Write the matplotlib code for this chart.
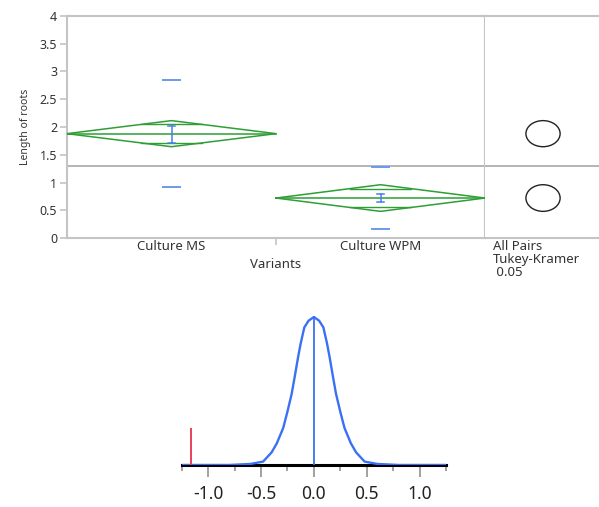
import numpy as np
import matplotlib
matplotlib.use("Agg")
import matplotlib.pyplot as plt
from matplotlib.patches import Ellipse

plt.rcParams['font.family'] = ['Noto Sans', 'DejaVu Sans']

# ---- data ----
categories = ["Culture MS", "Culture WPM"]
means = [1.88, 0.72]
ci_half = [0.235, 0.24]          # 95% means diamond half height
se_low = [1.72, 0.64]            # error bar limits
se_high = [2.02, 0.79]
obs_min = [0.91, 0.16]
obs_max = [2.85, 1.28]
grand_mean = 1.30
y_ticks = [0, 0.5, 1, 1.5, 2, 2.5, 3, 3.5, 4]

# randomization / null distribution curve (relative density)
dist_x = [-1.25, -0.80, -0.60, -0.48, -0.40, -0.35, -0.29, -0.25, -0.21, -0.18,
          -0.15, -0.125, -0.09, -0.05, 0.0, 0.05, 0.09, 0.125, 0.15, 0.18, 0.21,
          0.25, 0.29, 0.35, 0.40, 0.48, 0.60, 0.80, 1.25]
dist_y = [0.0, 0.0, 0.007, 0.023, 0.085, 0.147, 0.25, 0.36, 0.48, 0.60,
          0.725, 0.82, 0.93, 0.975, 1.0, 0.975, 0.93, 0.82, 0.725, 0.60, 0.48,
          0.36, 0.25, 0.147, 0.085, 0.023, 0.007, 0.0, 0.0]
observed_diff = -1.16
observed_height = 0.24
dist_ticks = [-1.0, -0.5, 0.0, 0.5, 1.0]
dist_minor = [-1.25, -0.75, -0.25, 0.25, 0.75, 1.25]

GREEN = "#2e9e35"
BLUE = "#4a7fe8"
LBLUE = "#6d98ee"
CBLUE = "#3a70f5"
RED = "#e8405a"
GRAY = "#c4c4c4"
TXT = "#333333"

W, H = 599, 507
fig = plt.figure(figsize=(W / 100, H / 100), dpi=100)


def rect(x0, y0, x1, y1):
    return [x0 / W, 1 - y1 / H, (x1 - x0) / W, (y1 - y0) / H]


# ---- main one-way plot ----
ax = fig.add_axes(rect(67, 16, 485, 238))
ax.set_xlim(0, 2)
ax.set_ylim(0, 4)
for s in ax.spines.values():
    s.set_color(GRAY)
    s.set_linewidth(1.5)
ax.set_yticks(y_ticks)
ax.set_yticklabels([f"{v:g}" for v in y_ticks])
ax.tick_params(axis='y', colors=GRAY, labelcolor=TXT, labelsize=9, length=5, width=1.2, pad=2)
ax.set_xticks([1])
ax.set_xticklabels([])
ax.tick_params(axis='x', colors=GRAY, length=5, width=1.2)
ax.set_ylabel("Length of roots", fontsize=7.5, color=TXT, labelpad=6)
ax.axhline(grand_mean, color="#a8a8a8", lw=1.2, zorder=1)

for i, cat in enumerate(categories):
    x0, xc, x1 = i, i + 0.5, i + 1
    m, c = means[i], ci_half[i]
    ax.plot([x0, xc, x1, xc, x0], [m, m + c, m, m - c, m], color=GREEN, lw=1.1, zorder=3)
    ax.plot([x0, x1], [m, m], color=GREEN, lw=1.1, zorder=3)
    k = 1 / np.sqrt(2)
    half_w = 0.5 * (1 - k)
    for sgn in (1, -1):
        ax.plot([xc - half_w, xc + half_w], [m + sgn * c * k] * 2, color=GREEN, lw=1.0, zorder=3)
    # error bar
    ax.plot([xc, xc], [se_low[i], se_high[i]], color=BLUE, lw=1.1, zorder=4)
    for yv in (se_low[i], se_high[i]):
        ax.plot([xc - 0.017, xc + 0.017], [yv, yv], color=BLUE, lw=1.1, zorder=4)
    # min / max dashes
    for yv in (obs_min[i], obs_max[i]):
        ax.plot([xc - 0.043, xc + 0.043], [yv, yv], color=LBLUE, lw=1.4, zorder=4)
    fig.text((67 + (485 - 67) * xc / 2) / W, 1 - 246 / H, cat, ha='center', va='center',
             fontsize=9.5, color=TXT)

fig.text(276 / W, 1 - 265 / H, "Variants", ha='center', va='center', fontsize=9.5, color=TXT)

# ---- comparison circles panel ----
axr = fig.add_axes(rect(485, 16, 599, 238))
axr.set_xlim(0, 1)
axr.set_ylim(0, 4)
axr.set_xticks([])
axr.set_yticks([])
for name, s in axr.spines.items():
    s.set_color(GRAY)
    s.set_linewidth(1.5)
    if name in ("left", "right"):
        s.set_visible(False)
axr.axhline(grand_mean, color="#a8a8a8", lw=1.2, zorder=1)
for i in range(len(categories)):
    e = Ellipse((0.509, means[i]), width=0.30, height=2 * ci_half[i],
                fill=False, edgecolor="#222222", lw=1.0)
    axr.add_patch(e)
for j, t in enumerate(["All Pairs", "Tukey-Kramer", " 0.05"]):
    fig.text(493 / W, 1 - (246 + 13.5 * j) / H, t, ha='left', va='center', fontsize=9.5, color=TXT)

# ---- distribution plot ----
axd = fig.add_axes(rect(181.7, 309, 446, 465))
axd.set_xlim(-1.25, 1.25)
axd.set_ylim(0, 156 / 148)
axd.plot(dist_x, dist_y, color=CBLUE, lw=1.7, zorder=3)
axd.plot([0, 0], [0, max(dist_y)], color=CBLUE, lw=1.3, zorder=3)
axd.plot([observed_diff, observed_diff], [0, observed_height], color=RED, lw=1.4, zorder=3)
for name, s in axd.spines.items():
    if name == "bottom":
        s.set_color("black")
        s.set_linewidth(2.2)
        s.set_zorder(2)
    else:
        s.set_visible(False)
axd.set_yticks([])
axd.set_xticks(dist_ticks)
axd.set_xticklabels([f"{v:.1f}" for v in dist_ticks])
axd.set_xticks(dist_minor, minor=True)
axd.tick_params(axis='x', which='major', colors="#9a9a9a", labelcolor="#222222",
                length=8.5, width=1.3, labelsize=12.5, pad=6)
axd.tick_params(axis='x', which='minor', colors="#9a9a9a", length=4.5, width=1.3)
axd.patch.set_visible(False)

fig.savefig("out.png", dpi=100)
